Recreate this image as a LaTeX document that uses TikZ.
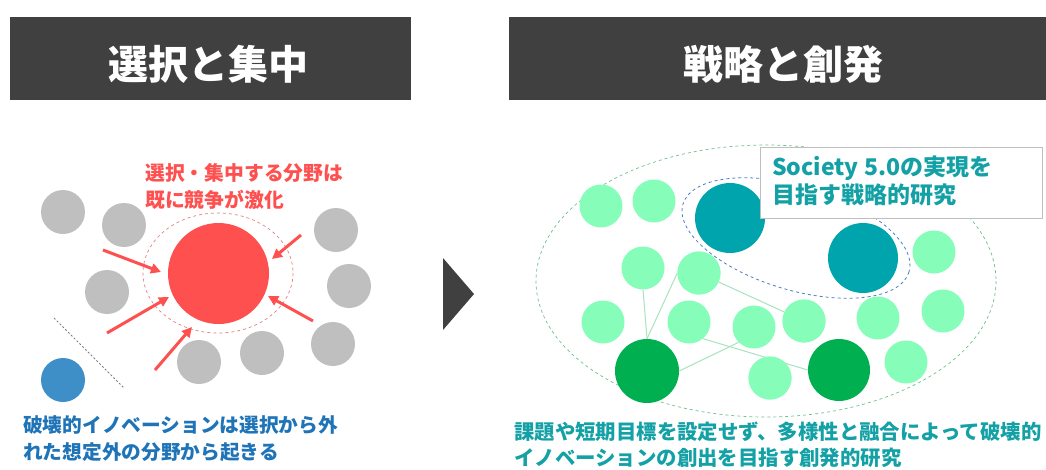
\documentclass[tikz,border=0pt]{standalone}
\usepackage{fontspec}
\newfontfamily\jp{Noto Sans CJK JP}
\usetikzlibrary{arrows.meta}
\definecolor{hdr}{HTML}{404040}
\definecolor{greyc}{HTML}{BFBFBF}
\definecolor{redc}{HTML}{FF5050}
\definecolor{reddash}{HTML}{E08080}
\definecolor{bluec}{HTML}{3E8FC8}
\definecolor{bluetext}{HTML}{1F74B8}
\definecolor{tealc}{HTML}{00A4AD}
\definecolor{tealtext}{HTML}{13A1A6}
\definecolor{lgreen}{HTML}{87FDBA}
\definecolor{dgreen}{HTML}{00B050}
\definecolor{linkc}{HTML}{A6E3BE}
\definecolor{gdash}{HTML}{6CC08A}
\definecolor{bdash}{HTML}{4D7FC0}
\definecolor{dotgrey}{HTML}{7F7F7F}
\begin{document}
\begin{tikzpicture}[x=1pt,y=-1pt,
  ball/.style={circle,inner sep=0pt,draw=none,minimum size=#1},
  hdrbox/.style={rectangle,fill=hdr,draw=none,inner sep=0pt},
  title/.style={anchor=base,text=white,inner sep=0pt,font=\jp\bfseries\fontsize{40}{44}\selectfont},
  redarrow/.style={draw=redc,line width=3pt,-{Triangle[length=10pt,width=10pt]}},
  link/.style={draw=linkc,line width=1pt},
  txt/.style={anchor=base west,inner sep=0pt,align=left}]
\useasboundingbox (0,0) rectangle (1046,469);

% headers
\node[hdrbox,minimum width=401pt,minimum height=83pt] (h1) at (210.5,58.5) {};
\node[hdrbox,minimum width=540pt,minimum height=83pt] (h2) at (779,58.5) {};
\node[title] (t1) at (208,79.5) {選択と集中};
\node[title] (t2) at (783,79.5) {戦略と創発};

% middle arrow
\fill[hdr] (443,258) -- (474,294) -- (443,330) -- cycle;

% ---------------- left panel ----------------
\draw[reddash,dashed,line width=0.7pt] (218,273) ellipse (75 and 60);
\node[ball=101pt,fill=redc] (red) at (218.5,273.5) {};
\foreach \n/\x/\y in {g1/63/212, g2/124/225, g3/107/292, g4/336/230, g5/349/286, g6/333/344, g7/199/362, g8/262/353}
  \node[ball=44pt,fill=greyc] (\n) at (\x,\y) {};
\node[ball=44pt,fill=bluec] (blue) at (63,380) {};
\coordinate (d1) at (54,318);
\coordinate (d2) at (124,388);
\draw[dotgrey,dash pattern=on 2pt off 2pt,line width=0.8pt] (d1) -- (d2);

\coordinate (a1s) at (103,250); \coordinate (a1e) at (161,272);
\coordinate (a2s) at (107,333); \coordinate (a2e) at (169,297);
\coordinate (a3s) at (155,370); \coordinate (a3e) at (192,327);
\coordinate (a4s) at (301,235); \coordinate (a4e) at (272,259);
\coordinate (a5s) at (313,321); \coordinate (a5e) at (268,296);
\foreach \i in {1,...,5} \draw[redarrow] (a\i s) -- (a\i e);

\node[txt,text=redc,font=\jp\bfseries\fontsize{19.8}{27}\selectfont] (rt) at (145,207.3) {選択・集中する分野は\\既に競争が激化};
\node[txt,text=bluetext,font=\jp\bfseries\fontsize{19.7}{27}\selectfont] (bt) at (23,459.3) {破壊的イノベーションは選択から外\\れた想定外の分野から起きる};

% ---------------- right panel ----------------
\draw[gdash,dashed,line width=0.7pt] (766,281) ellipse (230 and 136);
\draw[bdash,dashed,line width=0.8pt,rotate around={-16.7:(796,238)}] (796,238) ellipse (118 and 52);

\foreach \n/\x/\y in {c1/601/206, c2/654/201, c3/643/268, c4/699/273, c5/603/322, c6/689/322, c7/754/327, c8/804/321, c9/878/318, c10/943/311, c11/934/252, c12/906/362, c13/770/378}
  \node[ball=43pt,fill=lgreen] (\n) at (\x,\y) {};
\node[ball=64pt,fill=dgreen] (A) at (647,371) {};
\node[ball=62pt,fill=dgreen] (B) at (839,370) {};
\node[ball=70pt,fill=tealc] (T1) at (730,218) {};
\node[ball=70pt,fill=tealc] (T2) at (863,258) {};

\draw[link] (c3.south) -- (A.north);
\draw[link] (c4.west) -- (A.north);
\draw[link] (c4) -- (c8);
\draw[link] (A.east) -- (c7.south west);
\draw[link] (c6.-50) -- (B.west);
% circles drawn again over the link ends
\foreach \n/\x/\y in {c4/699/273, c8/804/321, c13/770/378}
  \node[ball=43pt,fill=lgreen] (\n) at (\x,\y) {};

\node[rectangle,draw=greyc,fill=white,line width=0.8pt,minimum width=282pt,minimum height=71pt,inner sep=0pt] (tbox) at (901,182.5) {};
\node[txt,text=tealtext,font=\jp\bfseries\fontsize{23}{28}\selectfont] (tt) at (772,203.5) {Society 5.0の実現を\\目指す戦略的研究};

\node[txt,text=tealtext,font=\jp\bfseries\fontsize{20.4}{26.5}\selectfont] (gt) at (514,465.5) {課題や短期目標を設定せず、多様性と融合によって破壊的\\イノベーションの創出を目指す創発的研究};
\end{tikzpicture}
\end{document}
